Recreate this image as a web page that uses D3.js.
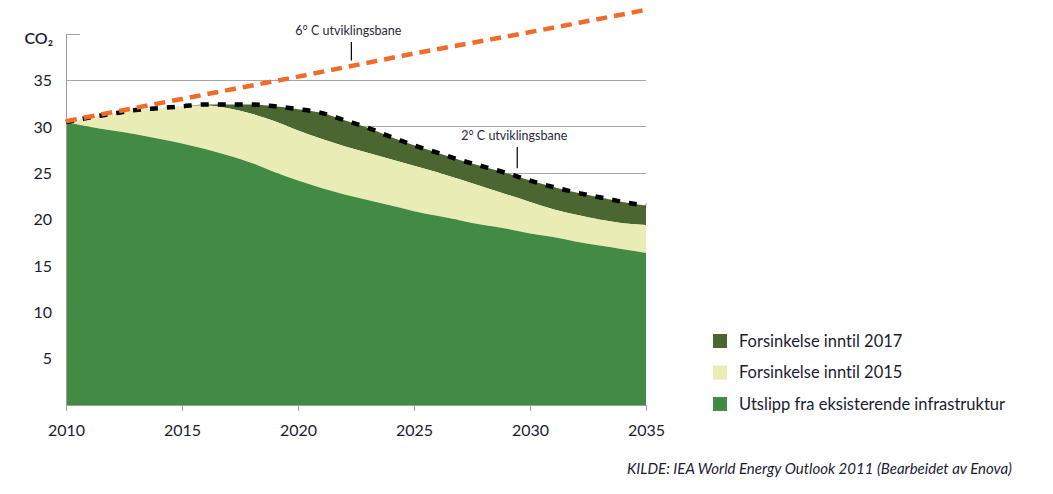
<!DOCTYPE html>
<html>
<head>
<meta charset="utf-8">
<script src="https://cdn.jsdelivr.net/npm/d3@7"></script>
<style>
  html, body { margin: 0; padding: 0; background: #fff; }
  svg { display: block; font-family: "Lato", "Open Sans", sans-serif; font-variant-ligatures: none; font-feature-settings: "liga" 0, "clig" 0; }
</style>
</head>
<body>
<svg id="chart" width="1053" height="494"></svg>
<script>
// ---- data ----
const years = d3.range(2010, 2036);
const existingInfra = [30.5, 30.0, 29.6, 29.2, 28.7, 28.2, 27.6, 26.9, 26.1, 25.1, 24.2, 23.4, 22.7, 22.1, 21.5, 20.9, 20.4, 19.9, 19.4, 19.0, 18.5, 18.1, 17.6, 17.2, 16.8, 16.4];
const delay2015Total = [30.5, 31.0, 31.4, 31.8, 32.0, 32.2, 32.3, 32.0, 31.4, 30.6, 29.6, 28.7, 27.9, 27.2, 26.5, 25.8, 25.1, 24.3, 23.5, 22.7, 21.9, 21.1, 20.5, 20.0, 19.6, 19.4];
const path2C = [30.5, 31.0, 31.4, 31.8, 32.0, 32.2, 32.4, 32.4, 32.4, 32.2, 31.9, 31.5, 30.7, 29.9, 28.9, 28.0, 27.2, 26.4, 25.7, 25.0, 24.2, 23.5, 22.9, 22.4, 21.9, 21.5];
const path6CYears = [2010, 2015, 2020, 2025, 2030, 2035];
const path6C = [30.6, 33.0, 35.4, 37.9, 40.2, 42.6];
const yTicks = [5, 10, 15, 20, 25, 30, 35];
const xTicks = [2010, 2015, 2020, 2025, 2030, 2035];
const legendLabels = ["Forsinkelse inntil 2017", "Forsinkelse inntil 2015", "Utslipp fra eksisterende infrastruktur"];
const legendColors = ["#4b6631", "#e9edb5", "#438a44"];
const sourceText = "KILDE: IEA World Energy Outlook 2011 (Bearbeidet av Enova)";

// ---- layout ----
const svg = d3.select("#chart");
const x = d3.scaleLinear().domain([2010, 2035]).range([66, 646]);
const y = d3.scaleLinear().domain([0, 40]).range([405, 34]);
const textColor = "#1c1c30";

// gridlines
svg.append("g").selectAll("line").data(yTicks).join("line")
  .attr("x1", x(2010)).attr("x2", x(2035))
  .attr("y1", d => y(d)).attr("y2", d => y(d))
  .attr("stroke", "#a6a6a6").attr("stroke-width", 1).attr("shape-rendering", "crispEdges");

const rows = years.map((yr, i) => ({ yr, g: existingInfra[i], y15: delay2015Total[i], y17: path2C[i] }));
const curve = d3.curveMonotoneX;

svg.append("path").datum(rows)
  .attr("fill", legendColors[0])
  .attr("d", d3.area().curve(curve).x(d => x(d.yr)).y0(d => y(d.y15)).y1(d => y(Math.max(d.y17, d.y15))));
svg.append("path").datum(rows)
  .attr("fill", legendColors[1])
  .attr("d", d3.area().curve(curve).x(d => x(d.yr)).y0(d => y(d.g)).y1(d => y(d.y15)));
svg.append("path").datum(rows)
  .attr("fill", legendColors[2])
  .attr("d", d3.area().curve(curve).x(d => x(d.yr)).y0(y(0)).y1(d => y(d.g)));

// axes
const yAxisG = svg.append("g");
yAxisG.append("line").attr("x1", 66).attr("x2", 66).attr("y1", y(40)).attr("y2", y(0))
  .attr("stroke", "#a0a0a0").attr("shape-rendering", "crispEdges");
yAxisG.append("line").attr("x1", 66).attr("x2", 80).attr("y1", y(40)).attr("y2", y(40))
  .attr("stroke", "#a0a0a0").attr("shape-rendering", "crispEdges");
yAxisG.selectAll("text").data(yTicks).join("text")
  .attr("x", 52).attr("y", d => y(d)).attr("dy", "0.36em")
  .attr("text-anchor", "end").attr("font-size", 16).attr("fill", textColor)
  .text(d => d);
svg.append("text").attr("x", 53).attr("y", 44).attr("text-anchor", "end")
  .attr("font-size", 16).attr("font-weight", 600).attr("fill", textColor).text("CO₂");

const xAxis = d3.axisBottom(x).tickValues(xTicks).tickFormat(d3.format("d")).tickSize(6).tickPadding(14);
const xg = svg.append("g").attr("transform", `translate(0,${y(0)})`).call(xAxis);
xg.select(".domain").attr("stroke", "#a0a0a0");
xg.selectAll(".tick line").attr("stroke", "#a0a0a0");
xg.selectAll(".tick text").attr("font-size", 16).attr("fill", textColor).attr("font-family", "Lato, 'Open Sans', sans-serif");

// 2C dotted line
svg.append("path").datum(rows)
  .attr("fill", "none").attr("stroke", "#000").attr("stroke-width", 4.5)
  .attr("stroke-dasharray", "8,9")
  .attr("d", d3.line().curve(curve).x(d => x(d.yr)).y(d => y(d.y17)));

// 6C dashed line
svg.append("path").datum(path6CYears.map((yr, i) => ({ yr, v: path6C[i] })))
  .attr("fill", "none").attr("stroke", "#f26b2b").attr("stroke-width", 4.5)
  .attr("stroke-dasharray", "11,7")
  .attr("d", d3.line().x(d => x(d.yr)).y(d => y(d.v)));

// annotations
function annotate(label, yr, v, textY) {
  const px = x(yr), py = y(v);
  svg.append("line").attr("x1", px).attr("x2", px).attr("y1", textY + 7).attr("y2", py - 5)
    .attr("stroke", "#000").attr("stroke-width", 1.2);
  svg.append("text").attr("x", px - 3).attr("y", textY).attr("text-anchor", "middle")
    .attr("font-size", 12.5).attr("fill", "#2a2a3a").text(label);
}
annotate("6° C utviklingsbane", 2022.3, 36.6, 35);
annotate("2° C utviklingsbane", 2029.45, 25.0, 140);

// legend
const lg = svg.append("g").selectAll("g").data(legendLabels).join("g")
  .attr("transform", (d, i) => `translate(713,${341 + i * 31.5})`);
lg.append("rect").attr("x", 0).attr("y", -7).attr("width", 14).attr("height", 14)
  .attr("fill", (d, i) => legendColors[i]);
lg.append("text").attr("x", 26).attr("y", 0).attr("dy", "0.36em")
  .attr("font-size", 16.5).attr("fill", textColor).text(d => d);

// source
svg.append("text").attr("x", 1012).attr("y", 474).attr("text-anchor", "end")
  .attr("font-size", 15).attr("font-style", "italic").attr("fill", textColor).text(sourceText);
</script>
</body>
</html>
